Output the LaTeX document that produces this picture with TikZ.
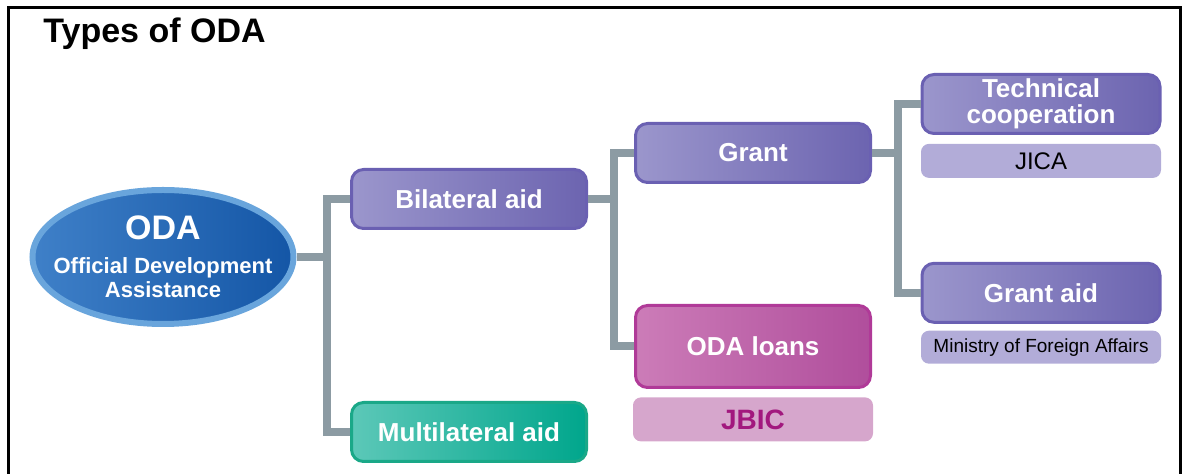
\documentclass[tikz,border=0pt]{standalone}
\usepackage{fontspec}
\setmainfont{Liberation Sans}
\usepackage{xcolor}
\usetikzlibrary{positioning,shapes.geometric}
\definecolor{odaring}{HTML}{69A5DC}
\definecolor{odalight}{HTML}{3F80C8}
\definecolor{odadark}{HTML}{1456A6}
\definecolor{purplelight}{HTML}{9B96CC}
\definecolor{purpledark}{HTML}{6C64B0}
\definecolor{purpleline}{HTML}{6A60B2}
\definecolor{lilac}{HTML}{B2ACD8}
\definecolor{loanlight}{HTML}{CC7CB8}
\definecolor{loandark}{HTML}{B04E9C}
\definecolor{loanline}{HTML}{B03A98}
\definecolor{jbicfill}{HTML}{D6A6CC}
\definecolor{jbictext}{HTML}{A2187E}
\definecolor{teallight}{HTML}{5CC8B8}
\definecolor{tealdark}{HTML}{00A68C}
\definecolor{tealline}{HTML}{1AA888}
\definecolor{connector}{HTML}{8C9BA3}
\tikzset{
    odanode/.style={ellipse,draw=odaring,line width=3pt,left color=odalight,right color=odadark,
        text=white,font=\bfseries,minimum width=130.5pt,minimum height=67pt,
        inner xsep=-12pt,inner ysep=-4pt,align=center},
    aidbox/.style={draw=purpleline,line width=1.5pt,rounded corners=6pt,left color=purplelight,
        right color=purpledark,text=white,font=\bfseries\fontsize{13}{13}\selectfont,
        minimum width=117.5pt,minimum height=29.5pt,inner sep=0pt,align=center},
    multibox/.style={aidbox,draw=tealline,left color=teallight,right color=tealdark},
    loanbox/.style={aidbox,draw=loanline,left color=loanlight,right color=loandark,minimum height=41pt},
    agency/.style={fill=lilac,rounded corners=4pt,minimum width=120pt,minimum height=17pt,
        inner sep=0pt,font=\fontsize{12}{12}\selectfont},
    conn/.style={draw=connector,line width=4pt,line join=miter}
}
\begin{document}
\begin{tikzpicture}[x=0.5pt,y=-0.5pt]
    \useasboundingbox (0,0) rectangle (1183,474);
    \draw[line width=1.5pt] (8,474) -- (8,8) -- (1180,8) -- (1180,474);
    \node[anchor=base west,inner sep=0pt,font=\bfseries\fontsize{17}{17}\selectfont] (title) at (43,43) {Types of ODA};

    \node[odanode] (oda) at (163,257) {{\fontsize{17}{17}\selectfont ODA}\\[5pt]
        {\fontsize{11}{10}\selectfont Official Development}\\{\fontsize{11}{10}\selectfont Assistance}};
    \node[aidbox] (bilat) at (469,199) {Bilateral aid};
    \node[multibox,below=85.5pt of bilat] (multi) {Multilateral aid};
    \node[aidbox] (grant) at (753,153) {Grant};
    \node[loanbox,below=60pt of grant] (loans) {ODA loans};
    \node[agency,fill=jbicfill,text=jbictext,minimum height=22pt,font=\bfseries\fontsize{14}{14}\selectfont,
        below=4pt of loans] (jbic) {JBIC};
    \node[aidbox,minimum width=119pt] (tech) at (1041,104) {Technical\\cooperation};
    \node[agency,below=4.25pt of tech] (jica) {JICA};
    \node[aidbox,minimum width=119pt,below=41.75pt of jica] (grantaid) {Grant aid};
    \node[agency,minimum height=16.5pt,font=\fontsize{9.5}{9.5}\selectfont,below=3.25pt of grantaid] (mofa) {Ministry of Foreign Affairs};

    % tree lines
    \coordinate (j1) at (327,257);
    \coordinate (j2) at (614,199);
    \coordinate (j3) at (898,153);
    \draw[conn] (oda.east) -- (j1);
    \draw[conn] (bilat.west) -| (j1) |- (multi.west);
    \draw[conn] (bilat.east) -- (j2);
    \draw[conn] (grant.west) -| (j2) |- (loans.west);
    \draw[conn] (grant.east) -- (j3);
    \draw[conn] (tech.west) -| (j3) |- (grantaid.west);
\end{tikzpicture}
\end{document}
